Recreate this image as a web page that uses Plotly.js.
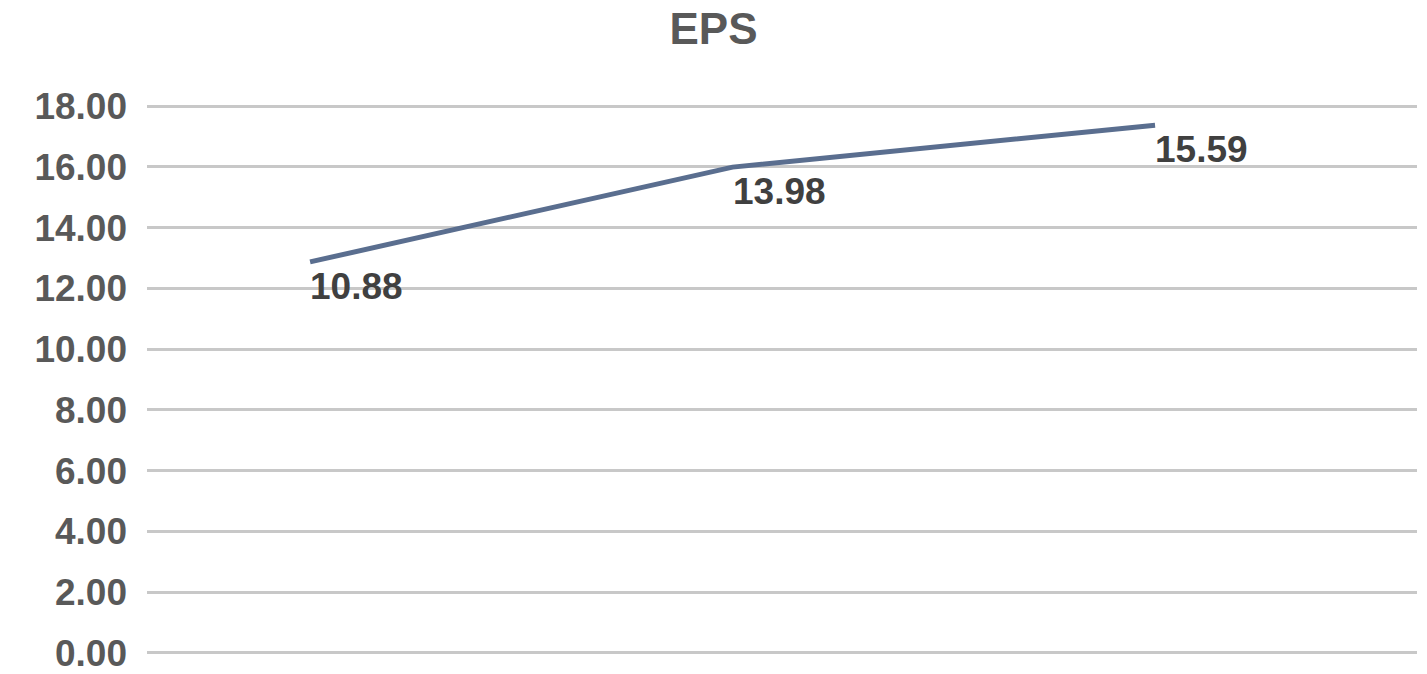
<!DOCTYPE html>
<html>
<head>
<meta charset="utf-8">
<script src="https://cdn.plot.ly/plotly-3.0.1.min.js"></script>
<style>html,body{margin:0;padding:0;background:#fff;}#chart{width:1427px;height:674px;}</style>
</head>
<body>
<div id="chart"></div>
<script>
// Data
var periods = [0, 1, 2];                 // three periods (no category labels shown)
var epsPlotted = [12.87, 15.99, 17.37];  // line position as drawn
var epsLabels = ["10.88", "13.98", "15.59"]; // data labels as printed
var yTickVals = [0, 2, 4, 6, 8, 10, 12, 14, 16, 18];
var yTickText = ["0.00", "2.00", "4.00", "6.00", "8.00", "10.00", "12.00", "14.00", "16.00", "18.00"];

var trace = {
  x: periods,
  y: epsPlotted,
  mode: "lines",
  line: {color: "#5a6e8f", width: 5},
  hoverinfo: "skip"
};

var labelAnnotations = periods.map(function (p, i) {
  return {
    x: p, y: epsPlotted[i], xref: "x", yref: "y",
    text: "<b>" + epsLabels[i] + "</b>",
    showarrow: false,
    xanchor: "left", yanchor: "top",
    xshift: -2, yshift: -2,
    font: {family: "Liberation Sans, Arial, sans-serif", size: 37, color: "#404040"}
  };
});

var layout = {
  width: 1427,
  height: 674,
  margin: {l: 147, r: 10, t: 103, b: 18},
  paper_bgcolor: "#ffffff",
  plot_bgcolor: "#ffffff",
  showlegend: false,
  title: {
    text: "<b>EPS</b>",
    font: {family: "Liberation Sans, Arial, sans-serif", size: 44, color: "#595959"},
    x: 0.5, xref: "container", xanchor: "center",
    y: 0.957, yref: "container", yanchor: "middle"
  },
  annotations: labelAnnotations,
  xaxis: {
    range: [-0.386, 2.62],
    showgrid: false, zeroline: false, showticklabels: false, ticks: "", showline: false
  },
  yaxis: {
    range: [-0.1, 18.1],
    tickvals: yTickVals, ticktext: yTickText,
    showgrid: true, gridcolor: "#c8c8c8", gridwidth: 3,
    zeroline: false, showline: false, ticks: "",
    ticklabelstandoff: 19,
    tickfont: {family: "Liberation Sans, Arial, sans-serif", size: 37, color: "#595959", weight: "bold"}
  }
};

Plotly.newPlot("chart", [trace], layout, {displayModeBar: false, staticPlot: true});
</script>
</body>
</html>
